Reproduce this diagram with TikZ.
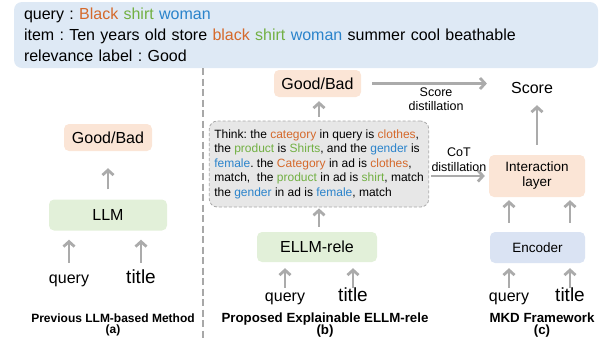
\documentclass[tikz,border=0pt]{standalone}
\usepackage{fontspec}
\setmainfont{Liberation Sans}
\usetikzlibrary{arrows.meta}

\definecolor{infoblue}{HTML}{DEE9F5}
\definecolor{peach}{HTML}{FBE5D6}
\definecolor{mint}{HTML}{E2F0D9}
\definecolor{encblue}{HTML}{DAE3F3}
\definecolor{thinkgray}{HTML}{E7E7E7}
\definecolor{dashgray}{HTML}{A8A8A8}
\definecolor{arrowgray}{HTML}{ABABAB}
\definecolor{txtorange}{HTML}{D5692B}
\definecolor{txtgreen}{HTML}{72B043}
\definecolor{txtblue}{HTML}{2A83CB}

\newcommand{\ora}[1]{\textcolor{txtorange}{#1}}
\newcommand{\gre}[1]{\textcolor{txtgreen}{#1}}
\newcommand{\blu}[1]{\textcolor{txtblue}{#1}}

\tikzstyle{infobox} = [rectangle,
rounded corners=8pt,
fill=infoblue,
minimum width=584pt,
minimum height=66pt,
inner xsep=10pt,
text width=564pt,
align=left,
font=\fontsize{16}{21}\selectfont]
\tikzstyle{peachbox} = [rectangle,
rounded corners=5pt,
fill=peach,
minimum width=88pt,
minimum height=27pt,
font=\fontsize{16}{16}\selectfont]
\tikzstyle{mintbox} = [rectangle,
rounded corners=5pt,
fill=mint,
minimum width=118pt,
minimum height=31pt,
font=\fontsize{16}{16}\selectfont]
\tikzstyle{thinkbox} = [rectangle,
rounded corners=8pt,
draw=dashgray,
dash pattern=on 3pt off 2pt,
line width=0.8pt,
fill=thinkgray,
inner xsep=5pt,
minimum height=86pt,
align=left,
font=\fontsize{12}{14.5}\selectfont]
\tikzstyle{word} = [inner sep=0pt,
text height=11pt,
text depth=4pt,
font=\fontsize{16}{16}\selectfont]
\tikzstyle{caption} = [align=center,
font=\bfseries\fontsize{13.3}{12.5}\selectfont]
\tikzstyle{arrow} = [draw=arrowgray,
line width=2.8pt,
-{Straight Barb[length=5pt,width=11pt]}]
\tikzstyle{divider} = [draw=dashgray,
line width=2.5pt,
dash pattern=on 7pt off 3.5pt]

\begin{document}
\frenchspacing
\begin{tikzpicture}[x=1pt, y=1pt, node distance=70pt]
\useasboundingbox (0,0) rectangle (602,-341);

\node (info) [infobox] at (306,-35) {query : \ora{Black} \gre{shirt} \blu{woman}\\item : Ten years old store \ora{black} \gre{shirt} \blu{woman} summer cool beathable\\relevance label : Good};

\coordinate (divtop) at (203,-68);
\coordinate (divbot) at (203,-341);
\draw[divider] (divtop) -- (divbot);

% (a)
\node (gb1) [peachbox] at (108,-137.5) {Good/Bad};
\node (llm) [mintbox, below of=gb1, yshift=-7.5pt] {LLM};
\node (q1) [word, below of=llm, xshift=-39pt, yshift=5.5pt] {query};
\node (t1) [word, below of=llm, xshift=33pt, yshift=5.5pt, font=\fontsize{19}{19}\selectfont] {title};
\node (capa) [caption, below of=llm, xshift=5pt, yshift=-40pt, font=\bfseries\fontsize{12}{11.5}\selectfont] {Previous LLM-based Method\\(a)};
\draw[arrow, shorten <=10pt, shorten >=17pt] (llm) -- (gb1);
\draw[arrow, shorten <=9pt, shorten >=9pt] (q1) -- (llm.south -| q1);
\draw[arrow, shorten <=9pt, shorten >=9pt] (t1) -- (llm.south -| t1);

% (b)
\node (think) [thinkbox] at (319,-164) {Think: the \ora{category} in query is \ora{clothes},\\the \gre{product} is \gre{Shirts}, and the \blu{gender} is\\\blu{female}. the \ora{Category} in ad is \ora{clothes},\\match,\ \ the \gre{product} in ad is \gre{shirt}, match\\the \blu{gender} in ad is \blu{female}, match};
\node (gb2) [peachbox, minimum width=87pt, above of=think, xshift=-1.5pt, yshift=10.5pt] {Good/Bad};
\node (ellm) [mintbox, minimum width=120pt, minimum height=30pt, below of=think, xshift=-2pt, yshift=-13pt] {ELLM-rele};
\node (q2) [word, below of=ellm, xshift=-32pt, yshift=19.5pt] {query};
\node (t2) [word, below of=ellm, xshift=36pt, yshift=19.5pt, font=\fontsize{19}{19}\selectfont] {title};
\node (capb) [caption, below of=ellm, xshift=8pt, yshift=-8pt] {Proposed Explainable ELLM-rele\\(b)};
\draw[arrow, shorten <=4pt, shorten >=4pt] (think) -- (gb2.south -| think);
\draw[arrow, shorten <=5pt, shorten >=1pt] (ellm.north -| think) -- (think);
\draw[arrow, shorten <=2pt, shorten >=6pt] (q2) -- (ellm.south -| q2);
\draw[arrow, shorten <=2pt, shorten >=6pt] (t2) -- (ellm.south -| t2);

% (c)
\node (inter) [peachbox, minimum width=96pt, minimum height=42pt, align=center, font=\fontsize{13.5}{15}\selectfont] at (537,-176) {Interaction\\layer};
\node (score) [word, above of=inter, xshift=-5pt, yshift=16.5pt] {Score};
\node (enc) [peachbox, fill=encblue, minimum width=95pt, minimum height=31pt, font=\fontsize{13.5}{13.5}\selectfont, below of=inter, xshift=0.5pt, yshift=-1.5pt] {Encoder};
\node (q3) [word, below of=enc, xshift=-28.5pt, yshift=20pt] {query};
\node (t3) [word, below of=enc, xshift=32.5pt, yshift=20pt, font=\fontsize{19}{19}\selectfont] {title};
\node (capc) [caption, below of=enc, xshift=4.5pt, yshift=-7.5pt] {MKD Framework\\(c)};
\draw[arrow, shorten <=10pt, shorten >=8pt] (inter) -- (score.south -| inter);
\draw[arrow, shorten <=9pt, shorten >=3pt] (enc.north -| q3) -- (inter.south -| q3);
\draw[arrow, shorten <=9pt, shorten >=3pt] (enc.north -| t3) -- (inter.south -| t3);
\draw[arrow, shorten <=2pt, shorten >=5pt] (q3) -- (enc.south -| q3);
\draw[arrow, shorten <=2pt, shorten >=5pt] (t3) -- (enc.south -| t3);

% distillation
\draw[arrow, shorten <=11pt, shorten >=24pt] (gb2) -- (gb2 -| score.west) node[midway, below, align=center, font=\fontsize{12.5}{14}\selectfont] {Score\\distillation};
\draw[arrow, shorten <=2pt, shorten >=4pt] (think.east |- inter) -- (inter) node[midway, above, align=center, font=\fontsize{12.5}{15}\selectfont] {CoT\\distillation};

\end{tikzpicture}
\end{document}
